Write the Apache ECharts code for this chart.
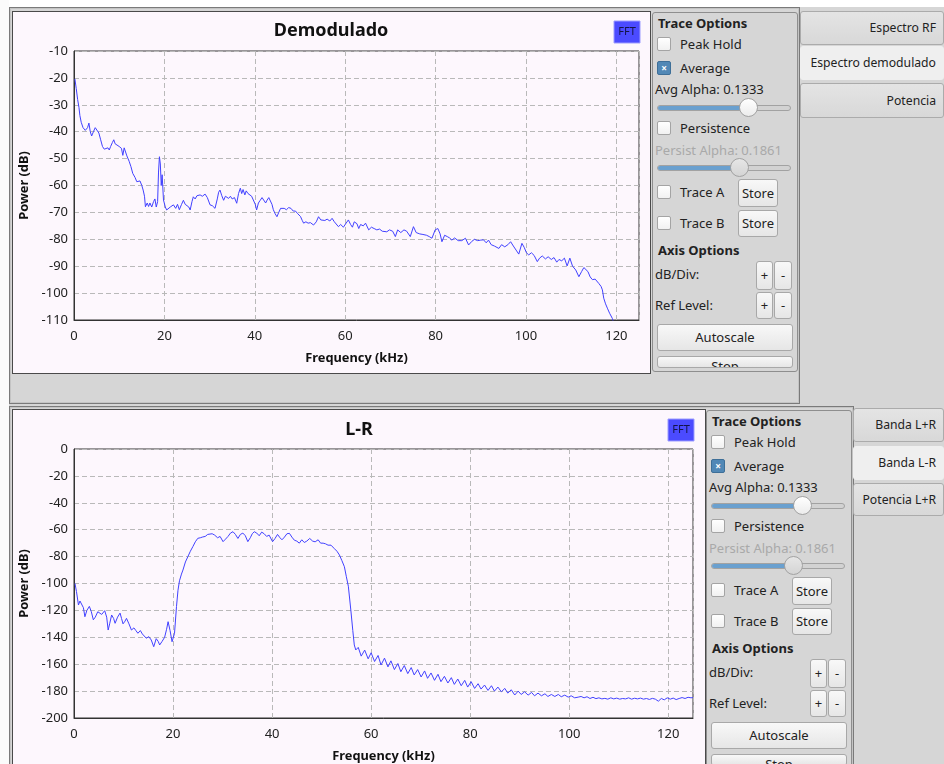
<!DOCTYPE html>
<html><head><meta charset="utf-8">
<script src="https://cdn.jsdelivr.net/npm/echarts@6/dist/echarts.min.js"></script>
<style>
body{margin:0;width:944px;height:764px;overflow:hidden;background:#d6d6d6;position:relative;font-family:'Noto Sans',sans-serif}
.abs{position:absolute}
.frame{position:absolute;border:1px solid #7a7a7a;box-shadow:inset 0 0 0 1px #c4c4c4;box-sizing:border-box}
.plotbg{position:absolute;background:#fdf7fd;border:1px solid #4a4a4a;box-sizing:border-box}
.pn{position:absolute;border:1px solid #8e8e8e;border-radius:3px;background:#d6d6d6;overflow:hidden;box-sizing:border-box}
.t{position:absolute;font-size:13px;color:#222;white-space:nowrap;line-height:16px}
.bd{font-weight:bold}
.cb{position:absolute;width:14px;height:14px;border:1px solid #a4a4a4;border-radius:2px;background:linear-gradient(#fff,#f1f1f1);box-sizing:border-box}
.cb.on{background:#5188b6;border-color:#3e6f98;color:#fff;font-size:10px;line-height:12px;text-align:center;font-weight:bold}
.btn{position:absolute;border:1px solid #a8a8a8;border-radius:3px;background:linear-gradient(#f8f8f8,#e6e6e6);font-size:13px;color:#222;text-align:center;box-sizing:border-box;overflow:hidden;white-space:nowrap}
.trk{position:absolute;height:6px;border-radius:3px;border:1px solid #a2a2a2;background:#d2d2d2;box-sizing:border-box;overflow:hidden}
.fill{position:absolute;left:0;top:0;bottom:0;background:#6aa0cf}
.hdl{position:absolute;width:19px;height:19px;border-radius:50%;border:1px solid #a2a2a2;background:linear-gradient(#ffffff,#ececec);box-sizing:border-box}
.tab{position:absolute;border:1px solid #ababab;border-radius:3px;background:linear-gradient(#e4e4e4,#d8d8d8);box-sizing:border-box;font-size:12.2px;color:#222;text-align:right;padding-right:7px;white-space:nowrap}
.tab.sel{background:#efefef;border-color:#efefef}
#chart{position:absolute;left:0;top:0;width:944px;height:764px;z-index:5}
</style>
</head><body>
<div class="abs" style="left:0;top:0;width:944px;height:7px;background:#fff"></div>
<div class="abs" style="left:0;top:0;width:9px;height:764px;background:#fbfbfb"></div>
<div class="frame" style="left:9px;top:7px;width:791px;height:397px"></div>
<div class="plotbg" style="left:12px;top:11px;width:639px;height:363px"></div>
<div class="frame" style="left:9px;top:406px;width:845px;height:370px"></div>
<div class="plotbg" style="left:12px;top:409px;width:694px;height:370px"></div>
<div id="ui"></div>
<div id="chart"></div>
<script>
// ---------- data ----------
const freqTop = [0.2,0.5,0.8,1.1,1.3,1.6,2.0,2.5,3.0,3.3,3.6,3.9,4.3,4.7,5.1,5.5,5.9,6.3,6.7,7.1,7.5,7.8,8.1,8.5,8.8,9.1,9.5,10.0,10.5,10.8,11.1,11.4,11.7,12.2,12.6,13.0,13.5,13.9,14.3,14.6,15.0,15.3,15.6,15.8,16.2,16.5,16.8,17.2,17.6,17.9,18.2,18.5,18.7,18.9,19.1,19.3,19.5,19.8,20.2,20.5,20.9,21.3,21.6,22.0,22.5,22.9,23.3,23.8,24.2,24.6,25.0,25.4,25.7,26.1,26.4,26.8,27.2,27.5,27.9,28.4,29.0,29.5,30.1,30.6,31.2,31.7,32.0,32.3,32.7,33.1,33.5,33.8,34.2,34.6,35.0,35.5,36.0,36.4,36.8,37.1,37.4,37.8,38.1,38.5,38.9,39.3,39.7,40.1,40.4,40.8,41.2,41.6,42.0,42.4,42.7,43.1,43.4,43.8,44.1,44.5,44.9,45.3,45.7,46.0,46.5,47.0,47.5,48.0,48.5,49.0,49.5,50.1,50.5,50.8,51.3,51.8,52.3,53.0,53.6,54.1,54.6,55.0,55.5,56.0,56.6,57.1,57.6,58.0,58.5,59.0,59.6,60.2,60.7,61.2,61.6,62.0,62.6,63.0,63.4,64.0,64.5,65.2,65.8,66.4,67.0,67.6,68.2,69.2,69.8,70.5,71.1,71.6,72.3,73.0,73.6,74.4,75.1,75.7,76.5,77.2,78.0,78.6,79.2,79.9,80.5,81.0,81.4,82.0,82.6,83.1,83.6,84.2,85.0,85.8,86.6,87.3,88.0,88.6,89.3,90.0,90.6,91.2,91.7,92.3,93.0,94.0,94.6,95.3,96.0,96.6,97.2,97.8,98.4,99.1,99.6,100.1,100.6,101.2,101.8,102.5,103.0,103.6,104.3,104.9,105.6,106.2,106.8,107.3,107.9,108.5,109.1,109.7,110.3,111.0,111.7,112.3,112.8,113.2,113.7,114.2,114.7,115.3,116.1,116.6,116.9,117.2,117.6,118.0,118.5,119.1,119.5];
const powTop = [-20.4,-24,-28,-31,-34,-36.5,-38.5,-39.5,-38.5,-36.8,-40,-41.6,-40,-38.5,-38.3,-40.5,-43,-45.5,-46.5,-47,-46,-46.8,-45.5,-44,-43,-44.5,-45,-45.5,-46.2,-48.8,-46,-45.8,-49,-51,-53,-55.5,-57,-58.6,-58,-58.3,-60,-61.7,-64,-67.9,-66.5,-67.8,-66.5,-68,-66,-65,-68,-66,-55,-49.3,-52,-60,-56,-65.4,-68,-69.1,-69,-68,-67.5,-67.2,-68.5,-67,-69,-67,-65.5,-67,-66.5,-68,-69.1,-66,-64.2,-65,-63.8,-64.5,-63.5,-64,-63.2,-64.5,-67.2,-67.5,-68.5,-65,-62.5,-61.7,-63.8,-65.5,-64,-63.5,-64.8,-64,-65,-64.5,-66.6,-63,-61,-63,-61.5,-63.5,-62,-63,-62.3,-64,-63.5,-67,-69.1,-66.5,-65.5,-64.5,-65,-66.5,-65.5,-64.5,-64.8,-67,-69,-70.5,-71.6,-70,-68.5,-67.9,-68.5,-69,-68.2,-68.5,-69.5,-69.5,-70.5,-71.5,-73,-74,-73.5,-74,-73.8,-74.7,-73.5,-71.6,-72.8,-73.5,-73,-72.5,-73.2,-72.2,-73.5,-74,-75.3,-74.5,-75.5,-74,-72.8,-74.5,-75.5,-73.5,-74.2,-76,-74.5,-75,-74,-76.5,-75.5,-76,-76.5,-76.2,-77,-77.2,-76.5,-77,-79,-76.5,-77.5,-76.5,-77,-79,-75.3,-77.5,-78,-78.2,-78.5,-79,-79.6,-76.5,-76,-78,-80.9,-78.5,-79,-79.5,-80.3,-79.5,-80.5,-80.5,-79.6,-82.1,-80.8,-80,-80.5,-80.3,-80.2,-81.3,-80.3,-82,-82.5,-83.4,-82,-82.8,-82,-80.9,-82.5,-84,-85.5,-81.5,-83,-85,-85.8,-85,-86,-88.3,-87,-86.2,-87.3,-86.5,-87.5,-86.8,-88.5,-87.5,-88,-87,-89.9,-87,-90,-91.4,-93.9,-92,-90.5,-90.2,-92,-94,-95,-94.8,-96.4,-97.5,-98.8,-101.9,-104,-105.6,-107.5,-109.4,-112];

const freqLR = [0.2,0.5,0.9,1.2,1.5,1.9,2.2,2.6,3.1,3.5,3.9,4.3,4.8,5.2,5.6,6.2,6.6,6.9,7.2,7.6,8.0,8.3,8.8,9.3,9.6,9.9,10.3,10.6,11.1,11.6,12.1,12.5,12.9,13.4,13.8,14.2,14.6,15.1,15.6,16.1,16.6,17.0,17.3,17.8,18.3,18.7,19.0,19.4,19.8,20.3,20.7,21.0,21.3,21.7,22.0,22.5,23.0,23.5,24.0,24.5,25.0,25.5,26.0,26.5,27.0,27.4,27.9,28.4,29.0,29.5,30.1,30.6,31.1,31.6,32.1,32.6,33.1,33.6,34.1,34.6,35.1,35.6,36.0,36.4,36.9,37.4,37.9,38.4,38.9,39.4,40.1,40.6,41.1,41.6,42.0,42.5,43.0,43.5,44.0,44.5,45.0,45.5,46.0,46.5,47.0,47.6,48.2,48.7,49.3,49.8,50.3,50.8,51.3,51.9,52.5,53.1,53.6,54.1,54.6,55.0,55.4,55.9,56.3,56.6,56.9,57.4,58.0,58.7,59.4,60.0,60.7,61.4,62.0,62.7,63.4,64.0,64.7,65.4,66.0,66.7,67.4,68.1,68.7,69.4,70.1,70.8,71.4,72.1,72.8,73.5,74.1,74.8,75.5,76.2,76.8,77.5,78.2,78.9,79.5,80.2,80.9,81.6,82.2,82.9,83.6,84.3,84.9,85.6,86.3,87.0,87.6,88.3,89.0,89.7,90.3,91.0,91.7,92.4,93.0,93.7,94.4,95.1,95.7,96.4,97.1,97.8,98.4,99.1,99.8,100.4,101.1,101.8,102.4,103.0,103.6,104.2,104.8,105.4,106.0,106.6,107.2,107.8,108.4,109.0,109.6,110.2,110.8,111.4,112.0,112.6,113.2,113.8,114.4,115.0,115.6,116.2,116.8,117.4,118.0,118.6,119.2,119.8,120.4,121.0,121.6,122.2,122.8,123.4,124.0,124.6,125.0];
const powLR = [-100,-106,-116,-113,-112,-118,-124.7,-120,-117,-121,-127,-125,-121,-121,-123,-120.2,-125,-134.6,-130,-123.4,-126,-129.6,-125,-122,-126,-130,-128,-125.9,-130,-134.6,-133,-135,-137,-135,-137.5,-138,-140.7,-139.5,-142,-147,-141,-143,-145.7,-143,-140,-134,-128.4,-135,-143.3,-137,-117,-105,-98,-93,-90,-84,-80,-76,-72.6,-69,-66.4,-66,-65.4,-65,-63.5,-62.7,-63,-64,-66,-65,-68.9,-67,-65,-62.5,-61.5,-63.5,-66.5,-63.5,-62.5,-64.5,-68.9,-66,-63,-61.5,-62.5,-64.5,-61.8,-63,-65,-64,-68.9,-66.5,-63.5,-66,-67.5,-65.5,-63,-62.7,-65.5,-67.8,-68.5,-70,-67.5,-69.5,-68.5,-66.5,-68.5,-69,-67.5,-70,-70,-70.5,-71.5,-71.5,-73.8,-76,-78.8,-83,-87.5,-95,-102,-119.7,-135,-145.7,-149.4,-147.5,-154,-149.5,-156,-151.5,-158,-153.5,-160.6,-155.5,-162,-157.5,-164,-159.5,-165.6,-161,-167,-162.5,-168,-164,-169.5,-165,-170.5,-166.5,-172,-167.5,-173,-169,-174,-170,-175,-171,-176,-172,-177,-173,-178,-174.5,-178.5,-175.5,-179.5,-176,-180,-177,-180.5,-178,-181.5,-179,-182.9,-180,-182.5,-180.5,-183,-181,-183.5,-181.5,-183.5,-182,-184,-182.5,-184,-182.5,-184.2,-183,-184.5,-183.5,-185,-184.5,-184,-185,-184.2,-185.5,-184.6,-185.6,-185,-185.8,-185.4,-186,-185,-185.8,-185.2,-186,-185.5,-185.8,-185,-186,-185.3,-185.8,-185.2,-186,-185.5,-186.2,-185.4,-186,-187.5,-185.5,-186.5,-185,-186,-185.2,-186.3,-185.5,-184.8,-185.5,-184.6,-185,-184.8];

const titles = ['Demodulado','L-R'];
const tabsTop = ['Espectro RF','Espectro demodulado','Potencia'];
const tabsBot = ['Banda L+R','Banda L-R','Potencia L+R'];

// ---------- GUI panels ----------
function panel(x,y,h){
  const s = [];
  const T=(l,t,txt,cls,st)=>s.push(`<div class="t ${cls||''}" style="left:${l}px;top:${t}px;${st||''}">${txt}</div>`);
  const CB=(t,on)=>s.push(`<div class="cb${on?' on':''}" style="left:4px;top:${t}px">${on?'×':''}</div>`);
  const B=(l,t,w,hh,txt,lh)=>s.push(`<div class="btn" style="left:${l}px;top:${t}px;width:${w}px;height:${hh}px;line-height:${lh||hh-2}px">${txt}</div>`);
  const SL=(t,fw,hx,dis)=>{s.push(`<div class="trk" style="left:4px;top:${t}px;width:134px"><div class="fill" style="width:${fw}px"></div></div>`);
    s.push(`<div class="hdl" style="left:${hx}px;top:${t-7}px;${dis?'background:linear-gradient(#e6e6e6,#d4d4d4)':''}"></div>`);};
  T(5,2,'Trace Options','bd');
  CB(24,false); T(27,23,'Peak Hold');
  CB(48,true); T(27,47,'Average');
  T(2,68,'Avg Alpha: 0.1333');
  SL(92,92,86,false);
  CB(108,false); T(27,107,'Persistence');
  T(2,129,'Persist Alpha: 0.1861','','color:#a9a9a9');
  SL(152,83,77,true);
  CB(172,false); T(27,171,'Trace A'); B(85,166,40,28,'Store');
  CB(203,false); T(27,202,'Trace B'); B(85,197,40,27,'Store');
  T(5,229,'Axis Options','bd');
  T(2,253,'dB/Div:'); B(103,248,17,29,'+'); B(121,248,18,29,'-');
  T(2,284,'Ref Level:'); B(103,279,17,27,'+'); B(121,279,18,27,'-');
  B(4,311,136,27,'Autoscale',25);
  B(4,343,136,12,'Stop',19);
  return `<div class="pn" style="left:${x}px;top:${y}px;width:146px;height:${h}px">${s.join('')}</div>`;
}
function tabs(x,names,sel,tops,hs,w){
  return names.map((n,i)=>`<div class="tab${i===sel?' sel':''}" style="left:${x}px;top:${tops[i]}px;width:${w}px;height:${hs[i]}px;line-height:${hs[i]-2}px">${n}</div>`).join('');
}
document.getElementById('ui').innerHTML =
  panel(652,12,360) + panel(706,410,360) +
  tabs(800,tabsTop,1,[11,46,83],[34,34,35],144) +
  tabs(853,tabsBot,1,[408,446,483],[34,34,33],91);

// ---------- chart ----------
const chart = echarts.init(document.getElementById('chart'), null, {renderer:'canvas'});
const lblStyle = {color:'#222', fontSize:13, fontFamily:'Noto Sans'};
const nameStyle = {color:'#111', fontSize:12.8, fontWeight:'bold', fontFamily:'Noto Sans'};
const split = {show:true, lineStyle:{color:'#b9b9b9', type:[5,3], width:1}};
function xAx(gi){return {type:'value', gridIndex:gi, min:0, max:125, interval:20,
  name:'Frequency (kHz)', nameLocation:'middle', nameGap:32, nameTextStyle:nameStyle,
  axisLine:{show:true, onZero:false, lineStyle:{color:'#333', width:1}}, axisTick:{show:false},
  axisLabel:Object.assign({margin:10, showMaxLabel:false}, lblStyle), splitLine:split};}
function yAx(gi,mn,mx,iv){return {type:'value', gridIndex:gi, min:mn, max:mx, interval:iv,
  name:'Power (dB)', nameLocation:'middle', nameGap:38, nameRotate:90, nameTextStyle:nameStyle,
  axisLine:{show:true, lineStyle:{color:'#333', width:1}}, axisTick:{show:false},
  axisLabel:Object.assign({margin:6}, lblStyle), splitLine:split};}
const lineCol = '#4141ff';
chart.setOption({
  animation:false,
  backgroundColor:'transparent',
  grid:[
    {left:74, top:51, width:565, height:269, show:true, borderColor:'#333', borderWidth:1},
    {left:74, top:449, width:619, height:269, show:true, borderColor:'#333', borderWidth:1}
  ],
  xAxis:[xAx(0), xAx(1)],
  yAxis:[yAx(0,-110,-10,10), yAx(1,-200,0,20)],
  series:[
    {type:'line', xAxisIndex:0, yAxisIndex:0, showSymbol:false, clip:true,
     data:freqTop.map((f,i)=>[f,powTop[i]]), lineStyle:{color:lineCol,width:1}, itemStyle:{color:lineCol}},
    {type:'line', xAxisIndex:1, yAxisIndex:1, showSymbol:false, clip:true,
     data:freqLR.map((f,i)=>[f,powLR[i]]), lineStyle:{color:lineCol,width:1}, itemStyle:{color:lineCol}}
  ],
  graphic:[
    {type:'text', x:331, y:31, style:{text:titles[0], fill:'#111', font:'bold 18px "Noto Sans"', textAlign:'center', textVerticalAlign:'middle'}},
    {type:'text', x:359, y:430, style:{text:titles[1], fill:'#111', font:'bold 18px "Noto Sans"', textAlign:'center', textVerticalAlign:'middle'}},
    {type:'rect', shape:{x:614, y:21, width:26, height:22}, style:{fill:'#4b4bff', stroke:'#9d9dff', lineWidth:1}},
    {type:'text', x:627, y:32, style:{text:'FFT', fill:'#14144a', font:'11px "Noto Sans"', textAlign:'center', textVerticalAlign:'middle'}},
    {type:'rect', shape:{x:668, y:419, width:26, height:22}, style:{fill:'#4b4bff', stroke:'#9d9dff', lineWidth:1}},
    {type:'text', x:681, y:430, style:{text:'FFT', fill:'#14144a', font:'11px "Noto Sans"', textAlign:'center', textVerticalAlign:'middle'}}
  ]
});
</script>
</body></html>
